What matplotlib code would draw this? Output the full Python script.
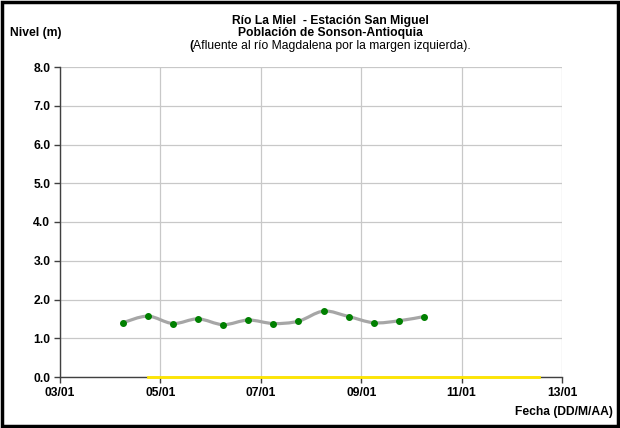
import matplotlib
matplotlib.use("Agg")
import matplotlib.pyplot as plt
from matplotlib.path import Path
from matplotlib.patches import PathPatch, Rectangle
import numpy as np

plt.rcParams['font.family'] = ['Liberation Sans', 'DejaVu Sans']

# days (x axis: 03/01 .. 13/01), readings every 12 h
dias = [4.25, 4.75, 5.25, 5.75, 6.25, 6.75, 7.25, 7.75, 8.25, 8.75, 9.25, 9.75, 10.25]
nivel = [1.40, 1.57, 1.38, 1.50, 1.35, 1.47, 1.38, 1.44, 1.70, 1.56, 1.40, 1.45, 1.56]

# yellow reference line on zero
ref_x = [4.75, 12.55]
ref_y = [0.0, 0.0]

x_ticks = [3, 5, 7, 9, 11, 13]
x_labels = ['03/01', '05/01', '07/01', '09/01', '11/01', '13/01']
y_ticks = [0, 1, 2, 3, 4, 5, 6, 7, 8]

FS = 8.7
W, H = 620, 428
fig = plt.figure(figsize=(W / 100, H / 100), dpi=100)
ax = fig.add_axes([60 / W, 1 - 377 / H, (562 - 60) / W, (377 - 67) / H])

ax.set_xlim(3, 13)
ax.set_ylim(0, 8)
ax.set_xticks(x_ticks)
ax.set_xticklabels(x_labels)
ax.set_yticks(y_ticks)
ax.set_yticklabels(['%.1f' % v for v in y_ticks])
ax.grid(True, color='#c8c8c8', linewidth=0.9)
ax.set_axisbelow(True)
for s in ['top', 'right']:
    ax.spines[s].set_visible(False)
for s in ['left', 'bottom']:
    ax.spines[s].set_color('#404040')
    ax.spines[s].set_linewidth(1.0)
ax.tick_params(direction='out', length=4, width=1, color='#404040',
               labelsize=FS, pad=3)
for lab in ax.get_xticklabels() + ax.get_yticklabels():
    lab.set_fontweight('bold')

# smoothed line (Catmull-Rom style bezier, like the spreadsheet smooth line)
pts = np.column_stack([dias, nivel])
verts = [pts[0]]
codes = [Path.MOVETO]
n = len(pts)
for i in range(n - 1):
    p0 = pts[i - 1] if i > 0 else pts[i]
    p1 = pts[i]
    p2 = pts[i + 1]
    p3 = pts[i + 2] if i + 2 < n else pts[i + 1]
    c1 = p1 + (p2 - p0) / 6.0
    c2 = p2 - (p3 - p1) / 6.0
    verts += [c1, c2, p2]
    codes += [Path.CURVE4] * 3
ax.add_patch(PathPatch(Path(verts, codes), facecolor='none',
                       edgecolor='#a6a6a6', linewidth=2.3, zorder=3))
ax.plot(dias, nivel, linestyle='none', marker='o', markersize=4.0,
        color='#008000', zorder=4)

ax.plot(ref_x, ref_y, color='#ffe600', linewidth=2.0, zorder=5, clip_on=False)

fig.text(10 / W, 1 - 33 / H, 'Nivel (m)', fontsize=FS, fontweight='bold',
         ha='left', va='center')
cx = 330 / W
fig.text(cx, 1 - 21 / H, 'Río La Miel  - Estación San Miguel', fontsize=FS,
         fontweight='bold', ha='center', va='center')
fig.text(cx, 1 - 33 / H, 'Población de Sonson-Antioquia', fontsize=FS,
         fontweight='bold', ha='center', va='center')

# third line: bold "(" then normal text, centred together
renderer = fig.canvas.get_renderer()
t1 = fig.text(0, 1 - 46 / H, '(', fontsize=FS, fontweight='bold',
              ha='left', va='center')
t2 = fig.text(0, 1 - 46 / H, 'Afluente al río Magdalena por la margen izquierda).',
              fontsize=FS, ha='left', va='center')
w1 = t1.get_window_extent(renderer).width
w2 = t2.get_window_extent(renderer).width
x0 = 330 - (w1 + w2) / 2
t1.set_x(x0 / W)
t2.set_x((x0 + w1) / W)

fig.text(613 / W, 1 - 412 / H, 'Fecha (DD/M/AA)', fontsize=FS,
         fontweight='bold', ha='right', va='center')

fig.patches.append(Rectangle((2 / W, 2 / H), 1 - 4 / W, 1 - 4 / H,
                             transform=fig.transFigure, fill=False,
                             edgecolor='black', linewidth=2.5))

fig.savefig('out.png', dpi=100)
